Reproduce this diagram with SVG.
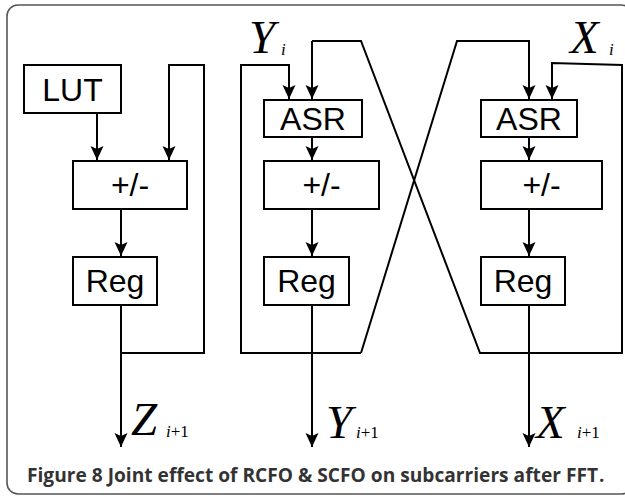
<svg xmlns="http://www.w3.org/2000/svg" width="625" height="497" viewBox="0 0 625 497">
<style>
.box{fill:#fff;stroke:#000;stroke-width:2}
.lbl{font-family:"Liberation Sans",Arial,sans-serif;font-size:32px;fill:#000;text-anchor:middle}
.wire{fill:none;stroke:#000;stroke-width:2}
.m{font-family:"Liberation Serif","Times New Roman",serif;font-style:italic;fill:#000}
.big{font-size:47px}
.sub{font-size:17px}
.up{font-style:normal}
.cap{font-family:"Open Sans","Noto Sans",sans-serif;font-size:19px;font-weight:bold;fill:#333}
</style>
<defs>
<marker id="ah" markerUnits="userSpaceOnUse" viewBox="-14 -7 14 14" markerWidth="14" markerHeight="14" refX="0" refY="0" orient="auto">
<path d="M0,0 L-14,-6.5 L-11,0 L-14,6.5 Z" fill="#000"/>
</marker>
</defs>
<rect x="7" y="5" width="625" height="489" rx="11" ry="11" fill="#fff" stroke="#555" stroke-width="1.6"/>
<g id="connectors">
<path class="wire" d="M97,113 V160" marker-end="url(#ah)"/>
<path class="wire" d="M121,353 H204 V65 H169 V160" marker-end="url(#ah)"/>
<path class="wire" d="M121,209 V256" marker-end="url(#ah)"/>
<path class="wire" d="M121,305 V447" marker-end="url(#ah)"/>
<path class="wire" d="M312,137 V160" marker-end="url(#ah)"/>
<path class="wire" d="M312,209 V256" marker-end="url(#ah)"/>
<path class="wire" d="M312,305 V447" marker-end="url(#ah)"/>
<path class="wire" d="M361,353 H241 V65 H289 V99" marker-end="url(#ah)"/>
<path class="wire" d="M361,353 L457,41 H529 V99" marker-end="url(#ah)"/>
<path class="wire" d="M312,41 V99" marker-end="url(#ah)"/>
<path class="wire" d="M312,41 H361 L480,353 H622 V65 L552,63 V99" marker-end="url(#ah)"/>
<path class="wire" d="M529,137 V160" marker-end="url(#ah)"/>
<path class="wire" d="M529,209 V256" marker-end="url(#ah)"/>
<path class="wire" d="M529,305 V447" marker-end="url(#ah)"/>
</g>
<g id="lut"><rect class="box" x="24" y="65" width="97" height="48"/><text class="lbl" x="72.5" y="100.5">LUT</text></g>
<g id="addsub1"><rect class="box" x="73" y="161" width="114" height="48"/><text class="lbl" x="130" y="196">+/-</text></g>
<g id="reg1"><rect class="box" x="73" y="257" width="84" height="48"/><text class="lbl" x="115" y="292">Reg</text></g>
<g id="asr2"><rect class="box" x="264" y="100" width="98" height="37"/><text class="lbl" x="313" y="129.5">ASR</text></g>
<g id="addsub2"><rect class="box" x="264" y="161" width="115" height="48"/><text class="lbl" x="321.5" y="196">+/-</text></g>
<g id="reg2"><rect class="box" x="264" y="257" width="85" height="48"/><text class="lbl" x="306.5" y="292">Reg</text></g>
<g id="asr3"><rect class="box" x="481" y="100" width="96" height="37"/><text class="lbl" x="529" y="129.5">ASR</text></g>
<g id="addsub3"><rect class="box" x="481" y="161" width="121" height="48"/><text class="lbl" x="541.5" y="196">+/-</text></g>
<g id="reg3"><rect class="box" x="481" y="257" width="84" height="48"/><text class="lbl" x="523" y="292">Reg</text></g>
<g id="labels">
<text class="m big" x="249" y="53">Y</text><text class="m sub" x="281" y="55">i</text>
<text class="m big" x="570" y="53">X</text><text class="m sub" x="609" y="55">i</text>
<text class="m big" x="131" y="435">Z</text><text class="m sub" x="166" y="437">i<tspan class="up">+1</tspan></text>
<text class="m big" x="326" y="438">Y</text><text class="m sub" x="356" y="438">i<tspan class="up">+1</tspan></text>
<text class="m big" x="536" y="438">X</text><text class="m sub" x="577" y="438">i<tspan class="up">+1</tspan></text>
</g>
<text class="cap" x="27" y="482" textLength="571" lengthAdjust="spacingAndGlyphs">Figure 8 Joint effect of RCFO &amp; SCFO on subcarriers after FFT</text>
<text class="cap" x="599" y="482" font-weight="normal">.</text>
</svg>
